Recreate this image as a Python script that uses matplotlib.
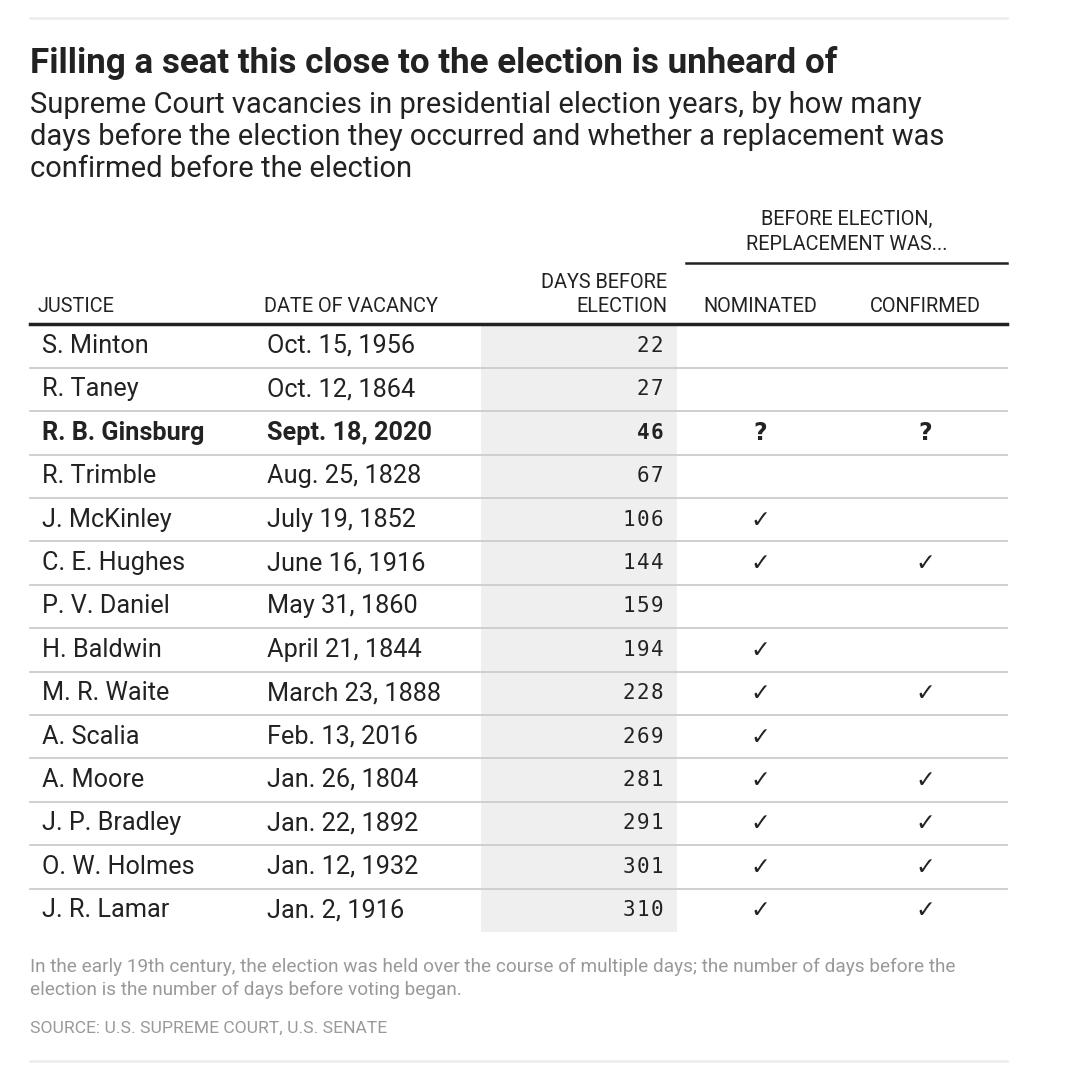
import matplotlib
matplotlib.use("Agg")
import matplotlib.pyplot as plt

plt.rcParams['font.family'] = ['Roboto', 'DejaVu Sans']

justices = ["S. Minton", "R. Taney", "R. B. Ginsburg", "R. Trimble", "J. McKinley",
            "C. E. Hughes", "P. V. Daniel", "H. Baldwin", "M. R. Waite", "A. Scalia",
            "A. Moore", "J. P. Bradley", "O. W. Holmes", "J. R. Lamar"]
dates = ["Oct. 15, 1956", "Oct. 12, 1864", "Sept. 18, 2020", "Aug. 25, 1828",
         "July 19, 1852", "June 16, 1916", "May 31, 1860", "April 21, 1844",
         "March 23, 1888", "Feb. 13, 2016", "Jan. 26, 1804", "Jan. 22, 1892",
         "Jan. 12, 1932", "Jan. 2, 1916"]
days = [22, 27, 46, 67, 106, 144, 159, 194, 228, 269, 281, 291, 301, 310]
nominated = ["", "", "?", "", "✓", "✓", "", "✓", "✓", "✓", "✓", "✓", "✓", "✓"]
confirmed = ["", "", "?", "", "", "✓", "", "", "✓", "", "✓", "✓", "✓", "✓"]
highlight = "R. B. Ginsburg"

W, H = 1070, 1082
fig = plt.figure(figsize=(W / 100, H / 100), dpi=100)
ax = fig.add_axes([0, 0, 1, 1])
ax.set_xlim(0, W)
ax.set_ylim(H, 0)
ax.axis('off')

dark = '#222222'
grey = '#999999'

# top / bottom rules
ax.plot([30, 1007], [18, 18], color='#eeeeee', lw=2)
ax.plot([30, 1007], [1061, 1061], color='#eeeeee', lw=2)

ax.text(30, 63, "Filling a seat this close to the election is unheard of",
        fontsize=25.2, fontweight='bold', color=dark, va='center', ha='left')
sub = ["Supreme Court vacancies in presidential election years, by how many",
       "days before the election they occurred and whether a replacement was",
       "confirmed before the election"]
for k, line in enumerate(sub):
    ax.text(30, 105 + 32 * k, line, fontsize=21, color=dark, va='center', ha='left')

# header
hs = 14.3
ax.text(847, 219, "BEFORE ELECTION,", fontsize=hs, color=dark, ha='center', va='center')
ax.text(847, 245, "REPLACEMENT WAS...", fontsize=hs, color=dark, ha='center', va='center')
ax.plot([686, 1007], [263, 263], color=dark, lw=1.8)
ax.text(38, 306, "JUSTICE", fontsize=hs, color=dark, ha='left', va='center')
ax.text(264, 306, "DATE OF VACANCY", fontsize=hs, color=dark, ha='left', va='center')
ax.text(667, 283, "DAYS BEFORE", fontsize=hs, color=dark, ha='right', va='center')
ax.text(667, 306, "ELECTION", fontsize=hs, color=dark, ha='right', va='center')
ax.text(760, 306, "NOMINATED", fontsize=hs, color=dark, ha='center', va='center')
ax.text(925, 306, "CONFIRMED", fontsize=hs, color=dark, ha='center', va='center')

y0, step = 346, 43.4
n = len(justices)
top = 326
bottom = y0 + (n - 1) * step + 22
ax.fill_between([481, 677], top, bottom, color='#efefef', lw=0, zorder=0)
ax.plot([30, 1007], [324, 324], color=dark, lw=2.5)

digit_adv = 14.2  # letter-spaced mono digits
for i in range(n):
    y = y0 + i * step
    bold = 'bold' if justices[i] == highlight else 'normal'
    ax.text(42, y, justices[i], fontsize=18.2, color=dark, ha='left', va='center', fontweight=bold)
    ax.text(267, y, dates[i], fontsize=18.2, color=dark, ha='left', va='center', fontweight=bold)
    for j, ch in enumerate(reversed(str(days[i]))):
        ax.text(657 - j * digit_adv, y, ch, fontsize=15, color=dark, ha='center', va='center',
                family=['DejaVu Sans Mono'], fontweight=bold)
    ax.text(760, y, nominated[i], fontsize=17, color=dark, ha='center', va='center',
            fontweight='bold', family=['DejaVu Sans'])
    ax.text(925, y, confirmed[i], fontsize=17, color=dark, ha='center', va='center',
            fontweight='bold', family=['DejaVu Sans'])
    if i < n - 1:
        ax.plot([30, 1007], [y + step / 2, y + step / 2], color='#cccccc', lw=1.3, zorder=1)

note = ["In the early 19th century, the election was held over the course of multiple days; the number of days before the",
        "election is the number of days before voting began."]
for k, line in enumerate(note):
    ax.text(30, 967 + 23 * k, line, fontsize=13.7, color=grey, ha='left', va='center')
ax.text(30, 1028, "SOURCE: U.S. SUPREME COURT, U.S. SENATE", fontsize=12.6, color=grey,
        ha='left', va='center')

fig.savefig("out.png", dpi=100, facecolor='white')
